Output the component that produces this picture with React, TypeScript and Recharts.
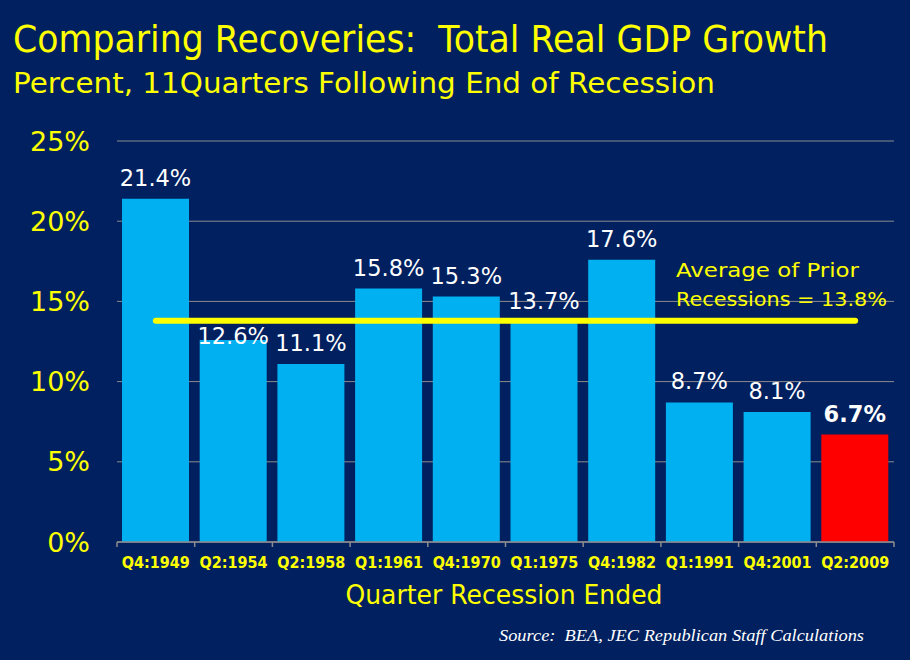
import { ComposedChart, Bar, Line, XAxis, YAxis, CartesianGrid, Cell, LabelList } from 'recharts'

// ── Data ──────────────────────────────────────────────────────────────────────
const quarters = ['Q4:1949', 'Q2:1954', 'Q2:1958', 'Q1:1961', 'Q4:1970', 'Q1:1975', 'Q4:1982', 'Q1:1991', 'Q4:2001', 'Q2:2009']
const growth = [21.4, 12.6, 11.1, 15.8, 15.3, 13.7, 17.6, 8.7, 8.1, 6.7]
const priorAverage = 13.8
const currentRecovery = 'Q2:2009'
const yTicks = [0, 5, 10, 15, 20, 25]

const data = quarters.map((q, i) => ({ quarter: q, growth: growth[i], avg: priorAverage }))

// ── Style ─────────────────────────────────────────────────────────────────────
const NAVY = '#002060'
const CYAN = '#00B0F0'
const RED = '#FF0000'
const YELLOW = '#FFFF00'
const GRID = '#8c8c8c'
const SANS = '"DejaVu Sans", sans-serif'

// category label plus tick marks on the band edges (PowerPoint style)
function QuarterTick(props: any) {
  const { x, y, payload, index } = props
  const half = payload?.offset ?? 0
  const last = index === quarters.length - 1
  return (
    <g>
      <line x1={x - half} x2={x - half} y1={y} y2={y + 5} stroke={GRID} strokeWidth={1.5} />
      {last && <line x1={x + half} x2={x + half} y1={y} y2={y + 5} stroke={GRID} strokeWidth={1.5} />}
      <text x={x} y={y + 26} textAnchor="middle" fill={YELLOW} fontSize={15}
        fontWeight={700} fontFamily={SANS} textLength={68} lengthAdjust="spacingAndGlyphs">
        {payload.value}
      </text>
    </g>
  )
}

// value label above each bar; drops below the average line if it would sit on it
function BarValue(props: any) {
  const vb = props.viewBox ?? props
  const x = props.x ?? vb.x
  const y = props.y ?? vb.y
  const width = props.width ?? vb.width
  const height = props.height ?? vb.height
  const value = Number(props.value)
  const pxPerUnit = height / value
  const lineY = y + height - priorAverage * pxPerUnit
  const cap = 17
  let base = y - 13
  if (base > lineY - 4 && base - cap < lineY + 4) base = lineY + 4 + cap + 2
  const bold = quarters[props.index] === currentRecovery
  return (
    <text x={x + width / 2} y={base} textAnchor="middle" fill="#ffffff"
      fontSize={22.5} fontWeight={bold ? 700 : 400} fontFamily={SANS}>
      {value.toFixed(1)}%
    </text>
  )
}

export default function App() {
  return (
    <div style={{ position: 'absolute', left: 0, top: 0, width: 910, height: 660, background: NAVY, overflow: 'hidden' }}>
      <ComposedChart width={910} height={660} data={data}
        margin={{ top: 141, right: 16, bottom: 88, left: 0 }}>
        <CartesianGrid vertical={false} stroke={GRID} strokeWidth={1} />
        <XAxis dataKey="quarter" height={30} interval={0} tickLine={false}
          axisLine={{ stroke: GRID, strokeWidth: 1.5 }} tickSize={0} tickMargin={0}
          tick={<QuarterTick />} />
        <YAxis width={117} domain={[0, 25]} ticks={yTicks} axisLine={false} tickLine={false}
          tickSize={0} tickMargin={27} tickFormatter={(v: number) => `${v}%`}
          tick={{ fill: YELLOW, fontSize: 27, fontFamily: SANS }} />
        <Bar dataKey="growth" barSize={67} isAnimationActive={false}>
          {data.map(d => (
            <Cell key={d.quarter} fill={d.quarter === currentRecovery ? RED : CYAN} />
          ))}
          <LabelList dataKey="growth" content={<BarValue />} />
        </Bar>
        <Line dataKey="avg" stroke={YELLOW} strokeWidth={6} strokeLinecap="round"
          dot={false} activeDot={false} isAnimationActive={false} />
      </ComposedChart>

      <svg width={910} height={660} style={{ position: 'absolute', left: 0, top: 0, pointerEvents: 'none' }}>
        <text x={13} y={52} fill={YELLOW} fontSize={38} fontFamily={SANS}
          textLength={815} lengthAdjust="spacingAndGlyphs" style={{ whiteSpace: 'pre' }}>
          Comparing Recoveries:  Total Real GDP Growth
        </text>
        <text x={13} y={93} fill={YELLOW} fontSize={29} fontFamily={SANS}
          textLength={702} lengthAdjust="spacingAndGlyphs">
          Percent, 11Quarters Following End of Recession
        </text>
        <text x={676} y={277} fill={YELLOW} fontSize={20} fontFamily={SANS}
          textLength={183} lengthAdjust="spacingAndGlyphs">
          Average of Prior
        </text>
        <text x={676} y={306} fill={YELLOW} fontSize={20} fontFamily={SANS}
          textLength={211} lengthAdjust="spacingAndGlyphs">
          Recessions = 13.8%
        </text>
        <text x={504} y={604} textAnchor="middle" fill={YELLOW} fontSize={26} fontFamily={SANS}
          textLength={317} lengthAdjust="spacingAndGlyphs">
          Quarter Recession Ended
        </text>
        <text x={499} y={641} fill="#ffffff" fontSize={16} fontStyle="italic"
          fontFamily='"Liberation Serif", serif' textLength={365} lengthAdjust="spacingAndGlyphs"
          style={{ whiteSpace: 'pre' }}>
          Source:  BEA, JEC Republican Staff Calculations
        </text>
      </svg>
    </div>
  )
}
